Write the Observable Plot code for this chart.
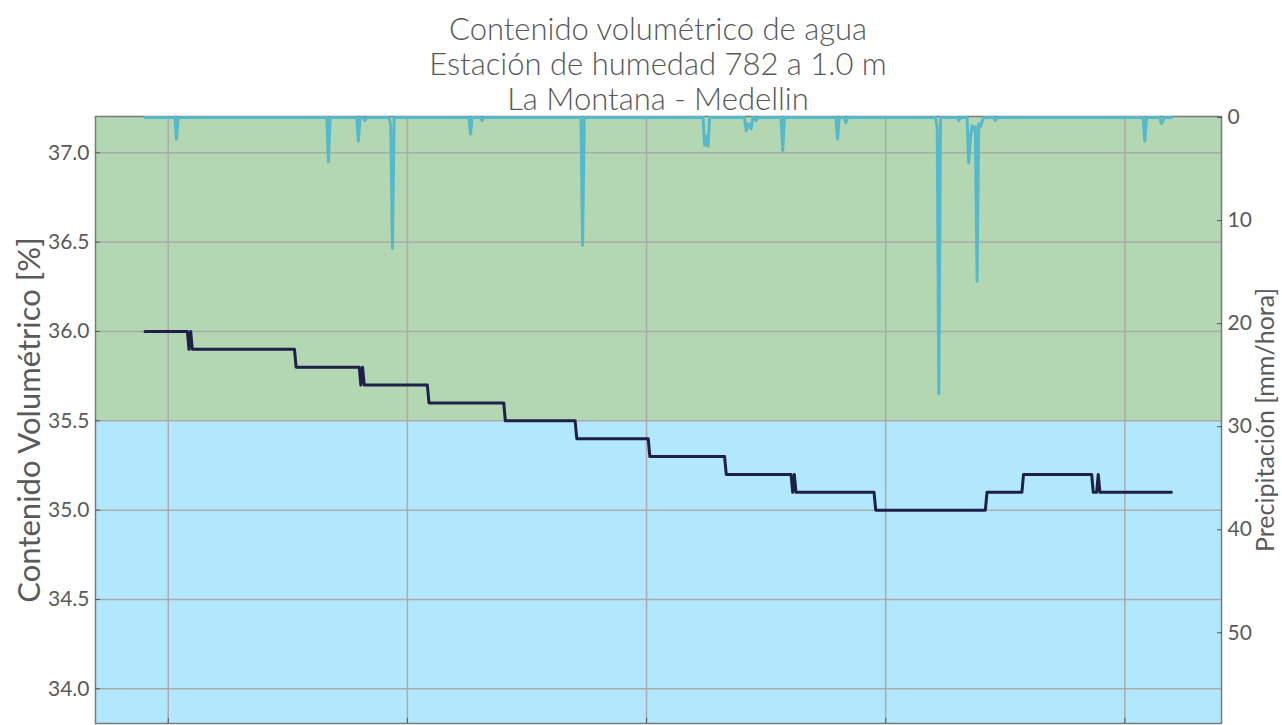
<!DOCTYPE html>
<html><head><meta charset="utf-8">
<script src="https://cdn.jsdelivr.net/npm/d3@7"></script>
<script src="https://cdn.jsdelivr.net/npm/@observablehq/plot@0.6"></script>
<style>
body{margin:0;background:#fff;overflow:hidden}
#title{position:relative;z-index:2;height:100px;box-sizing:border-box;padding-top:11px;margin-left:95px;width:1126px;text-align:center;font-family:Lato,"Open Sans",sans-serif;font-size:31px;line-height:35px;color:#575757;font-weight:300;white-space:nowrap}
#plots{position:relative;width:1282px;height:625px}
#plots svg{position:absolute;left:0;top:0}
</style></head><body>
<div id="title"></div>
<div id="plots"></div>
<script>
// ---- text ----
const titleLines = ["Contenido volumétrico de agua", "Estación de humedad 782 a 1.0 m", "La Montana - Medellin"];
const leftLabel = "Contenido Volumétrico [%]";
const rightLabel = "Precipitación [mm/hora]";

// ---- volumetric water content (hours from first day gridline, %) ----
const vwcHour  = [-2.33, 1.92, 2.08, 2.25, 2.42, 12.67, 12.83, 19.17, 19.33, 19.5, 19.67, 26.0, 26.17, 33.67, 33.83, 40.83, 41.0, 48.17, 48.33, 55.83, 56.0, 62.5, 62.67, 62.83, 63.0, 70.83, 71.0, 82.0, 82.17, 85.67, 85.83, 92.67, 92.83, 93.17, 93.33, 93.5, 100.67];
const vwcValue = [36.0, 36.0, 35.9, 36.0, 35.9, 35.9, 35.8, 35.8, 35.7, 35.8, 35.7, 35.7, 35.6, 35.6, 35.5, 35.5, 35.4, 35.4, 35.3, 35.3, 35.2, 35.2, 35.1, 35.2, 35.1, 35.1, 35.0, 35.0, 35.1, 35.1, 35.2, 35.2, 35.1, 35.1, 35.2, 35.1, 35.1];

// ---- precipitation (hours, mm/hora) ----
const rainHour = [-2.33,
  0.67, 0.83, 1.0,
  15.92, 16.08, 16.25,
  18.92, 19.08, 19.25, 19.58, 19.75, 19.92,
  22.17, 22.33, 22.5, 22.67,
  30.17, 30.33, 30.5, 31.33, 31.5, 31.67,
  41.42, 41.58, 41.75,
  53.67, 53.83, 54.0, 54.17, 54.33,
  57.83, 58.0, 58.17, 58.33, 58.5, 58.67, 58.83, 59.0, 59.17,
  61.5, 61.67, 61.83,
  67.0, 67.17, 67.33, 67.83, 68.0, 68.17,
  77.0, 77.17, 77.33, 77.5,
  79.17, 79.33, 79.5,
  80.17, 80.33, 80.5, 80.67, 80.83, 81.0, 81.17, 81.33, 81.5, 81.67, 81.83,
  82.83, 83.0, 83.17,
  97.83, 98.0, 98.17,
  99.5, 99.67, 99.83, 100.0,
  100.67];
const rainMM = [0,
  0, 2.1, 0,
  0, 4.3, 0,
  0, 2.3, 0, 0, 0.3, 0,
  0, 0.8, 12.7, 0,
  0, 1.6, 0, 0, 0.3, 0,
  0, 12.4, 0,
  0, 2.7, 1.8, 2.8, 0,
  0, 1.3, 0.6, 0.7, 1.1, 0, 0, 0.3, 0,
  0, 3.2, 0,
  0, 2.1, 0, 0, 0.5, 0,
  0, 1.0, 26.8, 0,
  0, 0.3, 0,
  0, 4.4, 2.0, 0.8, 1.2, 0.9, 15.9, 0.6, 0.9, 0.4, 0,
  0, 0.3, 0,
  0, 2.3, 0,
  0, 0.6, 0.3, 0,
  0];

// ---- ticks / scale domains ----
const vwcTicks  = [34.0, 34.5, 35.0, 35.5, 36.0, 36.5, 37.0];
const rainTicks = [0, 10, 20, 30, 40, 50];
const dayTicks  = [0, 24, 48, 72, 96];
const vwcDomain  = [33.806, 37.203];
const rainDomain = [-0.1, 58.8];
const hourDomain = [-7.3, 105.7];
const threshold = 35.5;

const vwc  = vwcHour.map((h, i) => ({hour: h, value: vwcValue[i]}));
const rain = rainHour.map((h, i) => ({hour: h, mm: rainMM[i]}));

document.getElementById("title").innerHTML = titleLines.join("<br>");

const common = {
  width: 1282, height: 625,
  marginTop: 16, marginBottom: 2, marginLeft: 95, marginRight: 61,
  style: {background: "transparent", fontFamily: "Lato, 'Open Sans', sans-serif", fontSize: "21px", color: "#5a5a5a"}
};

const green = "#b2d7b2", blue = "#b1e8fd";

const plot1 = Plot.plot({
  ...common,
  x: {domain: hourDomain, axis: null},
  y: {domain: vwcDomain, axis: null},
  marks: [
    Plot.rect([0], {y1: [vwcDomain[0]], y2: [threshold], fill: blue}),
    Plot.rect([0], {y1: [threshold], y2: [vwcDomain[1]], fill: green}),
    Plot.ruleY(vwcTicks, {stroke: "#ababab", strokeWidth: 1.5}),
    Plot.ruleX(dayTicks, {stroke: "#ababab", strokeWidth: 1.5}),
    Plot.frame({stroke: "#7a7a7a", strokeWidth: 1.5}),
    Plot.axisY(vwcTicks, {anchor: "left", tickSize: -5, tickPadding: 11, tickFormat: d3.format(".1f"), label: null, fontSize: 21, stroke: "#555"}),
    Plot.axisX(dayTicks, {anchor: "bottom", tickSize: -5, tickFormat: () => "", label: null, stroke: "#555"}),
    Plot.text([leftLabel], {text: d => d, frameAnchor: "left", textAnchor: "middle", rotate: -90, dx: -78, lineAnchor: "top", fontSize: 31}),
    Plot.line(vwc, {x: "hour", y: "value", stroke: "#1e2048", strokeWidth: 3})
  ]
});

const plot2 = Plot.plot({
  ...common,
  x: {domain: hourDomain, axis: null},
  y: {domain: rainDomain, reverse: true, axis: null},
  marks: [
    Plot.line(rain, {x: "hour", y: "mm", stroke: "#55b9cb", strokeWidth: 3}),
    Plot.axisY(rainTicks, {anchor: "right", tickSize: -5, tickPadding: 11, label: null, fontSize: 21, stroke: "#555"}),
    Plot.text([rightLabel], {text: d => d, frameAnchor: "right", textAnchor: "middle", rotate: -90, dx: 35, lineAnchor: "top", fontSize: 25})
  ]
});

const holder = document.getElementById("plots");
holder.appendChild(plot1);
holder.appendChild(plot2);
</script>
</body></html>
